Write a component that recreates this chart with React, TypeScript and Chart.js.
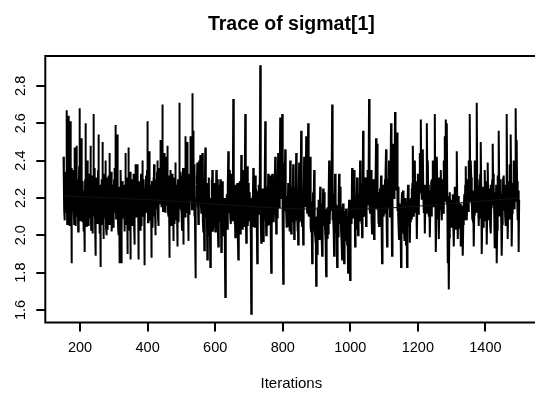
import React, { useEffect, useRef } from "react";
import { Chart, registerables } from "chart.js";

Chart.register(...registerables);

const TITLE = "Trace of sigmat[1]";
const X_LABEL = "Iterations";
const ITER_FIRST = 151;
const ITER_LAST = 1500;
const X_TICKS = [200, 400, 600, 800, 1000, 1200, 1400];
const Y_TICKS = [1.6, 1.8, 2.0, 2.2, 2.4, 2.6, 2.8];
const X_MIN = 97;
const X_MAX = 1554;
const Y_MIN = 1.533;
const Y_MAX = 2.96;

// trace values, iterations 151..1500 (read / estimated from the picture)
const SIGMAT = [
  2.42,2.27,2.13, 2.08,2.19,2.34, 2.30,2.12,2.25, 2.67,2.29,2.06, 2.15,2.33,2.20, 2.64,2.24,2.11, 2.22,2.05,2.28, 2.61,2.18,2.36, 1.85,2.09,2.23, 2.20,2.31,2.14,
  2.35,2.17,2.06, 2.47,2.26,2.32, 2.05,2.21,2.11, 2.48,2.30,2.16, 2.10,2.27,2.02, 2.30,2.19,2.37, 2.68,2.23,2.08, 2.12,2.34,2.20, 2.52,2.15,2.29, 2.25,2.07,2.18,
  2.02,2.24,2.13, 1.91,2.12,2.30, 2.60,2.21,2.05, 2.18,2.35,2.26, 2.40,2.10,2.22, 2.05,2.29,2.17, 2.33,2.09,2.24, 2.48,2.20,2.03, 2.15,2.32,2.11, 2.01,2.19,2.28,
  2.65,2.22,2.36, 2.10,2.26,2.04, 1.89,2.15,2.31, 2.28,2.08,2.19, 2.06,2.24,2.35, 2.54,2.13,2.27, 2.12,2.01,2.21, 1.83,2.10,2.26, 2.30,2.17,2.06, 2.50,2.23,2.33,
  1.98,2.16,2.29, 2.26,2.09,2.21, 2.40,2.18,2.03, 2.00,2.25,2.14, 2.03,2.31,2.22, 2.32,2.11,2.06, 2.44,2.28,2.17, 2.08,2.20,2.34, 2.20,2.02,2.13, 2.27,2.19,2.07,
  2.04,2.23,2.30, 2.36,2.12,2.18, 2.59,2.27,2.09, 2.10,2.32,2.21, 2.54,2.14,2.04, 2.00,2.19,2.26, 1.85,2.07,2.16, 2.22,2.35,2.11, 1.85,2.05,2.24, 2.12,2.29,2.18,
  2.25,2.09,2.20, 2.02,2.27,2.15, 2.44,2.21,2.06, 2.16,2.31,2.23, 1.90,2.12,2.28, 2.47,2.18,2.03, 2.10,2.25,2.34, 1.87,2.08,2.19, 2.30,2.14,2.26, 2.05,2.22,2.11,
  2.33,2.17,2.05, 1.95,2.13,2.27, 2.38,2.20,2.10,
  2.20,2.31,2.12, 2.38,2.16,2.24, 1.87,2.08,2.21, 2.15,2.29,2.03, 2.28,2.18,2.33, 2.05,2.22,2.14, 2.40,2.11,2.26, 2.10,2.30,2.19, 1.84,2.06,2.17, 2.25,2.13,2.32,
  2.12,2.24,2.35, 2.61,2.19,2.07, 2.20,2.33,2.15, 2.45,2.22,2.10, 2.08,2.27,2.18, 1.88,2.11,2.29, 2.18,2.04,2.23, 2.31,2.16,2.38, 2.10,2.25,2.13, 2.00,2.20,2.30,
  2.27,2.14,2.34, 2.40,2.21,2.09, 2.05,2.26,2.17, 2.22,2.36,2.28, 2.51,2.19,2.31, 2.15,2.38,2.24, 2.70,2.27,2.13, 2.30,2.20,2.35, 2.44,2.18,2.29, 2.12,2.33,2.21,
  2.42,2.16,2.30, 2.48,2.25,2.12, 2.10,2.32,2.19, 1.88,2.09,2.24, 2.20,2.35,2.13, 2.05,2.21,2.28, 2.33,2.11,2.18, 1.97,2.15,2.31, 2.25,2.06,2.22, 2.39,2.17,2.27,
  2.08,2.23,2.14, 1.94,2.19,2.30, 2.20,2.07,2.25, 2.71,2.28,2.16, 2.15,2.34,2.22, 2.32,2.12,2.03, 2.26,2.18,2.36, 1.95,2.13,2.27, 2.18,2.31,2.10, 2.53,2.24,2.19,
  2.12,2.29,2.36, 2.50,2.22,2.15, 1.97,2.18,2.33, 2.30,2.11,2.26, 2.53,2.34,2.21, 2.20,2.37,2.14, 2.76,2.31,2.25, 2.56,2.19,2.38, 2.10,2.28,2.06, 1.77,2.02,2.20,
  2.18,2.32,2.27, 2.39,2.15,2.30, 2.06,2.24,2.36, 2.40,2.20,2.33, 2.43,2.26,2.17, 2.12,2.35,2.23, 2.44,2.18,2.08, 2.02,2.21,2.13, 1.92,2.16,2.29, 2.47,2.25,2.12,
  2.10,2.28,2.19, 1.87,2.06,2.22, 2.24,2.12,2.31, 2.00,2.17,2.09, 1.83,2.04,2.20, 2.15,2.30,2.11, 2.35,2.18,2.02, 2.05,2.23,2.14,
  2.20,2.05,2.28, 2.02,2.17,2.11, 2.35,2.14,2.23, 2.15,2.30,2.04, 1.94,2.09,2.25, 2.12,2.27,2.16, 2.30,2.07,2.19, 1.91,2.13,2.24, 2.10,2.29,2.02, 2.00,2.18,2.08,
  2.20,2.11,1.98, 1.67,1.95,2.14, 2.05,2.22,2.10, 2.18,2.03,2.26, 2.45,2.19,2.31, 2.35,2.12,2.24, 2.10,2.28,2.06, 2.24,2.15,2.33, 2.08,2.21,2.16, 2.73,2.25,2.09,
  2.22,2.06,2.17, 1.99,2.19,2.27, 2.15,2.04,2.23, 2.28,2.12,2.02, 1.87,2.09,2.20, 2.10,2.29,2.14, 2.01,2.18,2.07, 2.43,2.21,2.30, 2.12,2.03,2.16, 2.35,2.24,2.11,
  2.05,2.19,2.27, 2.65,2.22,2.13, 1.96,2.10,2.25, 2.37,2.17,2.05, 2.15,2.28,2.09, 2.08,2.23,2.16, 2.20,2.01,2.12, 1.58,1.97,2.18, 2.05,2.21,2.10, 2.36,2.14,2.26,
  2.10,2.24,2.04, 2.32,2.15,2.22, 2.05,2.18,2.08, 1.85,2.06,2.21, 2.20,2.11,2.27, 2.12,2.29,2.17, 2.91,2.23,2.09, 1.96,2.16,2.03, 2.14,2.25,2.12, 1.97,2.19,2.07,
  2.22,2.08,2.28, 2.61,2.20,2.14, 2.00,2.17,2.26, 2.18,2.05,2.12, 2.33,2.21,2.09, 2.06,2.24,2.15, 2.32,2.13,2.02, 1.80,2.04,2.19, 2.33,2.16,2.27, 2.10,2.22,2.07,
  2.20,2.11,2.29, 2.42,2.18,2.26, 2.01,2.23,2.14, 2.25,2.09,2.31, 2.44,2.22,2.17, 2.15,2.33,2.25, 2.63,2.28,2.36, 2.20,2.38,2.30, 2.65,2.21,2.06, 1.74,2.03,2.18,
  2.39,2.13,2.24, 2.46,2.27,2.16, 2.12,2.04,2.21, 2.05,2.19,2.10, 2.28,2.14,2.25, 2.08,2.23,2.02, 2.40,2.17,2.09, 2.01,2.15,2.26, 2.20,2.07,2.18,
  2.38,2.16,2.27, 1.98,2.14,2.05, 2.15,2.26,2.19, 2.44,2.21,2.08, 2.10,2.02,2.17, 1.95,2.12,2.23, 2.39,2.18,2.07, 2.12,2.25,2.30, 2.56,2.20,2.11, 2.05,2.16,2.24,
  1.95,2.13,2.22, 2.42,2.19,2.28, 2.20,2.34,2.15, 2.53,2.25,2.31, 2.12,2.29,2.36, 2.60,2.23,2.10, 2.15,2.30,2.21, 2.42,2.14,2.04, 2.02,2.18,2.09, 1.85,2.06,2.16,
  2.23,2.09,2.18, 2.35,2.12,2.03, 2.00,1.96,2.10, 1.73,1.95,2.07, 1.90,2.08,2.15, 2.12,2.01,2.19, 1.98,2.11,2.04, 2.26,2.14,2.06, 2.05,2.17,1.99, 1.89,2.03,2.13,
  2.25,2.08,2.16, 2.23,2.05,2.12, 2.02,2.14,1.97, 1.78,2.00,2.09, 2.10,1.98,2.15, 2.01,2.11,2.20, 2.40,2.17,2.06, 2.15,2.27,2.19, 2.37,2.13,2.24, 2.70,2.21,2.08,
  2.10,2.22,2.03, 1.89,2.07,2.18, 2.33,2.11,2.01, 2.05,2.16,2.09, 1.83,2.04,2.13, 2.12,1.99,2.20, 2.33,2.14,2.06, 2.26,2.08,2.17, 2.02,2.12,1.96, 1.87,2.05,2.14,
  2.17,2.02,2.10, 1.85,2.04,2.13, 2.06,1.97,2.08, 2.14,2.00,2.11, 1.95,2.07,2.01, 1.80,1.99,2.09, 2.19,2.05,2.12, 1.76,2.01,2.15, 2.10,2.19,2.06, 2.36,2.16,2.23,
  2.15,2.26,2.09, 2.35,2.18,2.27, 1.94,2.10,2.20, 2.12,2.03,2.16, 2.31,2.13,2.24, 2.00,2.19,2.07, 2.08,2.22,2.14, 2.40,2.20,2.29, 2.18,2.06,2.23, 1.99,2.12,2.17,
  2.56,2.25,2.18, 2.14,2.29,2.10, 2.31,2.17,2.26, 2.05,2.20,2.13, 2.22,2.35,2.16, 2.31,2.19,2.28, 2.73,2.24,2.14,
  2.12,2.26,2.18, 2.35,2.21,2.09, 2.01,2.15,2.24, 2.20,2.11,2.30, 1.98,2.14,2.22, 2.15,2.31,2.27, 2.52,2.25,2.36, 2.49,2.28,2.17, 2.18,2.06,2.23, 2.05,2.19,2.12,
  2.25,2.13,2.20, 2.32,2.16,2.07, 1.85,2.03,2.18, 2.20,2.27,2.10, 2.12,2.24,2.16, 2.30,2.19,2.33, 2.46,2.22,2.11, 1.94,2.09,2.25, 2.15,2.30,2.21, 2.40,2.18,2.28,
  2.10,2.23,2.31, 2.60,2.27,2.14, 1.89,2.12,2.26, 2.49,2.33,2.22, 2.20,2.36,2.29, 2.66,2.30,2.38, 2.40,2.24,2.35, 2.55,2.21,2.13, 2.15,2.26,2.05, 1.98,2.17,2.09,
  2.10,1.99,2.12, 1.83,2.03,2.16, 2.23,2.08,2.01, 2.24,2.11,2.18, 2.02,2.14,1.97, 2.10,2.06,2.20, 1.95,2.09,2.13, 1.83,2.04,2.15, 2.27,2.12,2.05, 2.08,2.19,2.11,
  1.96,2.14,2.07, 2.20,2.09,2.25, 2.17,2.28,2.13, 2.48,2.22,2.32, 2.10,2.26,2.18, 2.40,2.15,2.29, 2.12,2.21,2.06, 1.98,2.16,2.24, 2.33,2.19,2.11, 2.15,2.27,2.34,
  2.44,2.23,2.31, 2.62,2.28,2.19, 2.20,2.35,2.26, 2.46,2.21,2.14, 2.12,2.27,2.08, 2.01,2.16,2.23, 2.25,2.12,2.30, 2.60,2.32,2.22, 2.40,2.18,2.27, 2.10,2.24,2.15,
  1.99,2.13,2.21, 2.18,2.29,2.10, 2.30,2.17,2.25, 2.40,2.20,2.33, 2.15,2.28,2.19, 2.65,2.24,2.12, 1.91,2.09,2.22, 2.42,2.26,2.16, 2.20,2.31,2.11, 1.98,2.14,2.23,
  2.15,2.27,2.19, 2.35,2.16,2.24, 2.08,2.21,2.30, 2.22,2.12,2.28, 2.40,2.25,2.18, 2.53,2.29,2.36, 2.62,2.23,2.17,
  2.60,2.21,2.05, 1.85,2.02,1.96, 1.71,1.99,2.13, 2.23,2.08,2.17, 2.10,2.19,2.04, 2.07,2.15,2.22, 2.20,2.06,2.11, 1.94,2.10,2.18, 2.26,2.14,2.03, 2.12,2.20,2.09,
  2.45,2.16,2.07, 1.98,2.12,2.21, 2.19,2.04,2.13, 2.05,2.17,2.00, 1.94,2.09,2.16, 2.15,2.02,2.11, 1.89,2.06,2.18, 2.10,2.22,2.08, 2.14,2.27,2.19, 2.37,2.15,2.24,
  2.08,2.21,2.30, 2.25,2.13,2.34, 2.40,2.22,2.28, 2.65,2.26,2.18, 2.40,2.31,2.16, 2.20,2.09,2.24, 2.08,2.17,2.03, 1.94,2.11,2.20, 2.40,2.19,2.27, 2.15,2.29,2.12,
  2.71,2.28,2.17, 2.30,2.14,2.23, 2.05,2.19,2.09, 2.22,2.33,2.15, 2.50,2.25,2.12, 1.90,2.07,2.20, 2.12,2.26,2.04, 2.16,2.08,2.21, 2.35,2.18,2.29, 2.10,2.24,2.14,
  1.95,2.11,2.20, 2.39,2.17,2.25, 2.08,2.22,2.13, 2.19,2.05,2.27, 2.01,2.15,2.21, 2.20,2.30,2.16, 2.49,2.24,2.33, 2.26,2.12,2.19, 1.93,2.08,2.23, 2.12,2.27,2.06,
  1.85,2.03,2.17, 2.32,2.14,2.25, 2.56,2.28,2.19, 2.10,2.30,2.21, 2.23,2.09,2.16, 1.89,2.06,2.22, 2.18,2.31,2.13, 2.32,2.20,2.27, 2.19,2.10,2.24, 2.05,2.18,2.12,
  2.65,2.26,2.16, 1.98,2.13,2.29, 2.25,2.09,2.22, 2.38,2.17,2.31, 2.54,2.27,2.19, 1.94,2.12,2.24, 2.15,2.28,2.20, 2.40,2.23,2.14, 2.20,2.33,2.26, 2.68,2.30,2.18,
  2.51,2.22,2.29, 2.08,2.24,2.13, 1.91,2.19,
];

// smoothed (lowess-like) line through the trace
const SMOOTH_ITER = [151, 300, 500, 700, 900, 1100, 1300, 1500];
const SMOOTH_VAL = [2.21, 2.2, 2.18, 2.155, 2.14, 2.145, 2.17, 2.2];

const FONT = '"Liberation Sans", Arial, Helvetica, sans-serif';

const rPlotPlugin = {
  id: "rPlot",
  afterDraw(chart: any) {
    const { ctx, chartArea: a, scales } = chart;
    ctx.save();
    ctx.strokeStyle = "#000";
    ctx.lineWidth = 2;
    ctx.strokeRect(a.left, a.top, a.right - a.left, a.bottom - a.top);
    ctx.fillStyle = "#000";
    ctx.font = `bold 19.5px ${FONT}`;
    ctx.textAlign = "center";
    ctx.textBaseline = "alphabetic";
    ctx.fillText(TITLE, (a.left + a.right) / 2, 30);
    ctx.font = `14.5px ${FONT}`;
    for (const v of Y_TICKS) {
      const y = scales.y.getPixelForValue(v);
      ctx.save();
      ctx.translate(24.5, y);
      ctx.rotate(-Math.PI / 2);
      ctx.fillText(v.toFixed(1), 0, 0);
      ctx.restore();
    }
    ctx.restore();
  },
};

export default function App() {
  const ref = useRef<HTMLCanvasElement | null>(null);
  useEffect(() => {
    document.body.style.margin = "0";
    const canvas = ref.current;
    if (!canvas) return;
    const n = SIGMAT.length;
    const step = (ITER_LAST - ITER_FIRST) / (n - 1);
    const chart = new Chart(canvas, {
      type: "line",
      data: {
        datasets: [
          {
            data: SMOOTH_ITER.map((x, i) => ({ x, y: SMOOTH_VAL[i] })),
            borderColor: "#111",
            borderWidth: 1,
            pointRadius: 0,
            cubicInterpolationMode: "monotone",
          },
          {
            data: SIGMAT.map((v, i) => ({ x: ITER_FIRST + i * step, y: v })),
            borderColor: "#000",
            borderWidth: 2,
            pointRadius: 0,
            tension: 0,
          },
        ],
      },
      options: {
        responsive: false,
        devicePixelRatio: 1,
        animation: false,
        layout: { padding: { left: 0, right: 545 - 537.4, top: 56, bottom: 0 } },
        plugins: { legend: { display: false }, tooltip: { enabled: false }, title: { display: false } },
        scales: {
          x: {
            type: "linear",
            min: X_MIN,
            max: X_MAX,
            afterBuildTicks: (s: any) => {
              s.ticks = X_TICKS.map((v) => ({ value: v }));
            },
            afterFit: (s: any) => {
              s.height = 71.5;
            },
            ticks: {
              font: { size: 14.5, family: FONT },
              color: "#000",
              padding: 8,
              maxRotation: 0,
              autoSkip: false,
              callback: (v: any) => String(v),
            },
            grid: { drawOnChartArea: false, drawTicks: true, tickLength: 9, color: "#000", lineWidth: 2 },
            border: { display: false },
            title: {
              display: true,
              text: X_LABEL,
              color: "#000",
              font: { size: 15, family: FONT },
              padding: { top: 0, bottom: 1 },
            },
          },
          y: {
            type: "linear",
            min: Y_MIN,
            max: Y_MAX,
            afterBuildTicks: (s: any) => {
              s.ticks = Y_TICKS.map((v) => ({ value: v }));
            },
            afterFit: (s: any) => {
              s.width = 45.3;
            },
            ticks: { color: "rgba(0,0,0,0)", font: { size: 14.5, family: FONT }, padding: 0 },
            grid: { drawOnChartArea: false, drawTicks: true, tickLength: 9, color: "#000", lineWidth: 2 },
            border: { display: false },
          },
        },
      },
      plugins: [rPlotPlugin],
    });
    return () => chart.destroy();
  }, []);
  return (
    <div style={{ width: 535, height: 394, overflow: "hidden", position: "relative", background: "#fff" }}>
      <canvas ref={ref} width={545} height={394} style={{ display: "block", width: 545, height: 394 }} />
    </div>
  );
}
